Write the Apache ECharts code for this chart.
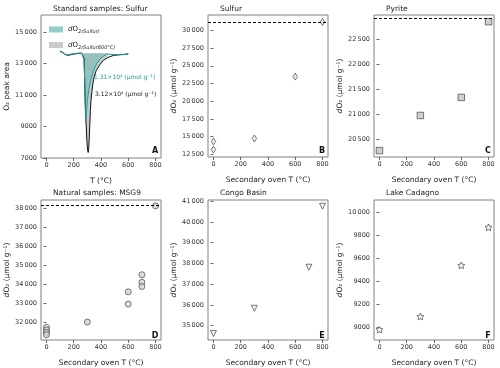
<!DOCTYPE html>
<html><head><meta charset="utf-8">
<script src="https://cdn.jsdelivr.net/npm/echarts@6/dist/echarts.min.js"></script>
<style>html,body{margin:0;padding:0;background:#fff}#c{width:500px;height:368px}</style>
</head><body><div id="c"></div>
<script>
// ---------- data ----------
const xTicks = [0, 200, 400, 600, 800];
// Panel A: O2 peak area vs T
const tSulfur800 = [100,120,140,160,180,200,220,240,260,270,276,280,283,287,292,297,302,306,310,314,318,322,327,333,340,350,365,390,416,450,490,540,580,600];
const aSulfur800 = [13780,13700,13560,13520,13560,13600,13620,13650,13650,13630,13300,12000,10800,9800,8900,8000,7500,7350,7600,8300,9100,10000,10700,11200,11700,12150,12550,12900,13190,13380,13510,13560,13590,13620];
const tSulfur = [100,120,140,160,180,200,220,240,260,270,276,280,283,286,290,295,300,310,320,331,345,368,400,441,500,550,600];
const aSulfur = [13750,13700,13580,13560,13600,13620,13650,13660,13650,13600,13200,12000,10800,9900,9490,10000,10600,11300,11750,12100,12550,12980,13350,13600,13560,13560,13580];
const fillBaseline = 13650;
const aYTicks = [7000, 9000, 11000, 13000, 15000];
// Panel B: Sulfur
const bT = [0, 0, 300, 600, 800];
const bD = [13150, 14300, 14720, 23470, 31200];
const bRef = 31200;
const bYTicks = [12500, 15000, 17500, 20000, 22500, 25000, 27500, 30000];
// Panel C: Pyrite
const cT = [0, 300, 600, 800];
const cD = [20280, 20980, 21340, 22850];
const cRef = 22910;
const cYTicks = [20500, 21000, 21500, 22000, 22500];
// Panel D: MSG9
const dT = [0, 0, 0, 0, 300, 600, 600, 700, 700, 700, 800];
const dD = [31720, 31580, 31450, 31330, 32000, 33600, 32950, 34500, 34100, 33880, 38140];
const dRef = 38150;
const dYTicks = [32000, 33000, 34000, 35000, 36000, 37000, 38000];
// Panel E: Congo Basin
const eT = [0, 300, 700, 800];
const eD = [34620, 35840, 37820, 40760];
const eYTicks = [35000, 36000, 37000, 38000, 39000, 40000, 41000];
// Panel F: Lake Cadagno
const fT = [0, 300, 600, 800];
const fD = [8980, 9094, 9538, 9868];
const fYTicks = [9000, 9200, 9400, 9600, 9800, 10000];

// ---------- chart ----------
const FONT = 'DejaVu Sans';
const pairs = (xs, ys) => xs.map((x, i) => [x, ys[i]]);
const fmt = v => { const s = String(Math.round(v)); return s.length > 4 ? s.slice(0, -3) + '\u2009' + s.slice(-3) : s; };
const colL = [41, 208, 374], rowT = [15, 200], GW = 120, GH = 142;
const grids = [];
for (let r = 0; r < 2; r++) for (let c = 0; c < 3; c++)
  grids.push({left: colL[c], top: rowT[r], width: GW, height: r === 0 && c === 0 ? 143 : GH, show: true, borderColor: '#808080', borderWidth: 1, containLabel: false});

const ylabel = {'i': {fontStyle: 'italic', fontSize: 7.5, fontFamily: FONT, color: '#222'}};
const yName = '{i|d}O₂ (μmol g⁻¹)';
const yRanges = [[7000, 16080], [12100, 32180], [20152, 22983], [31050, 38450], [34310, 41060], [8890, 10105]];
const yTickSets = [aYTicks, bYTicks, cYTicks, dYTicks, eYTicks, fYTicks];
const xAxes = [], yAxes = [];
for (let g = 0; g < 6; g++) {
  xAxes.push({type: 'value', gridIndex: g, min: -40, max: 840,
    name: g === 0 ? 'T (°C)' : 'Secondary oven T (°C)', nameLocation: 'middle', nameGap: 19,
    nameTextStyle: {fontSize: 7.5, fontFamily: FONT, color: '#222'},
    axisLine: {show: false}, splitLine: {show: false},
    axisTick: {show: true, length: 3, customValues: xTicks, lineStyle: {color: '#444', width: 0.8}},
    axisLabel: {customValues: xTicks, fontSize: 6.5, fontFamily: FONT, color: '#333', margin: 4}});
  yAxes.push({type: 'value', gridIndex: g, min: yRanges[g][0], max: yRanges[g][1],
    name: g === 0 ? 'O₂ peak area' : yName, nameLocation: 'middle', nameGap: g === 0 ? 26 : 25,
    nameTextStyle: {fontSize: 7.5, fontFamily: FONT, color: '#222', rich: ylabel},
    axisLine: {show: false}, splitLine: {show: false},
    axisTick: {show: true, length: 3, customValues: yTickSets[g], lineStyle: {color: '#444', width: 0.8}},
    axisLabel: {customValues: yTickSets[g], fontSize: 6.5, fontFamily: FONT, color: '#333', margin: 4, formatter: fmt}});
}

const edge = {borderColor: '#333', borderWidth: 0.8};
const refLine = v => ({silent: true, symbol: ['none', 'none'], label: {show: false},
  lineStyle: {type: [3, 2], color: '#000', width: 1}, data: [{yAxis: v}], animation: false});
const inFill = (ts, as) => pairs(ts, as).filter(p => p[0] >= 262 && p[0] <= 470);

const series = [
  {name: 'fill800', type: 'line', xAxisIndex: 0, yAxisIndex: 0, data: inFill(tSulfur800, aSulfur800), symbol: 'none',
    lineStyle: {width: 0}, areaStyle: {origin: fillBaseline, color: '#b4b4b4', opacity: 0.7}, z: 1},
  {name: 'fillS', type: 'line', xAxisIndex: 0, yAxisIndex: 0, data: inFill(tSulfur, aSulfur), symbol: 'none',
    lineStyle: {width: 0}, areaStyle: {origin: fillBaseline, color: '#56b3ae', opacity: 0.45}, z: 2},
  {name: 'line800', type: 'line', xAxisIndex: 0, yAxisIndex: 0, data: pairs(tSulfur800, aSulfur800), symbol: 'none',
    lineStyle: {width: 1, color: '#111'}, z: 3},
  {name: 'lineS', type: 'line', xAxisIndex: 0, yAxisIndex: 0, data: pairs(tSulfur, aSulfur), symbol: 'none',
    lineStyle: {width: 1, color: '#1f9e98'}, z: 4},
  {type: 'scatter', xAxisIndex: 1, yAxisIndex: 1, data: pairs(bT, bD), symbol: 'path://M0,-10 L6,0 0,10 -6,0Z',
    symbolSize: [4.5, 7], itemStyle: Object.assign({color: '#eeeeee'}, edge), markLine: refLine(bRef)},
  {type: 'scatter', xAxisIndex: 2, yAxisIndex: 2, data: pairs(cT, cD), symbol: 'rect',
    symbolSize: 6.5, itemStyle: Object.assign({color: '#c4c4c4'}, edge), markLine: refLine(cRef)},
  {type: 'scatter', xAxisIndex: 3, yAxisIndex: 3, data: pairs(dT, dD), symbol: 'circle',
    symbolSize: 6, itemStyle: Object.assign({color: '#d4d4d4'}, edge), markLine: refLine(dRef)},
  {type: 'scatter', xAxisIndex: 4, yAxisIndex: 4, data: pairs(eT, eD), symbol: 'triangle', symbolRotate: 180,
    symbolSize: 6, itemStyle: Object.assign({color: '#eeeeee'}, edge)},
  {type: 'scatter', xAxisIndex: 5, yAxisIndex: 5, data: pairs(fT, fD),
    symbol: 'path://M0,-10 L2.94,-4.05 9.51,-3.09 4.76,1.55 5.88,8.09 0,5 -5.88,8.09 -4.76,1.55 -9.51,-3.09 -2.94,-4.05Z',
    symbolSize: 7, symbolKeepAspect: true, itemStyle: Object.assign({color: '#f2f2f2'}, edge)}
];

const titles = ['Standard samples: Sulfur', 'Sulfur', 'Pyrite', 'Natural samples: MSG9', 'Congo Basin', 'Lake Cadagno'];
const titleOpts = titles.map((t, i) => ({text: t, left: colL[i % 3] + 7, top: i < 3 ? 0 : 184,
  textStyle: {fontSize: 7.5, fontWeight: 'normal', fontFamily: FONT, color: '#222'}}));

const legRich = {
  i: {fontStyle: 'italic', fontSize: 7, fontFamily: FONT, color: '#222'},
  n: {fontSize: 7, fontFamily: FONT, color: '#222'},
  s: {fontStyle: 'italic', fontSize: 5, fontFamily: FONT, color: '#222', padding: [5, 0, 0, 0]}
};
const legLabels = {fillS: '{i|d}{n|O}{s|2(Sulfur)}', fill800: '{i|d}{n|O}{s|2(Sulfur800°C)}'};

const letters = ['A', 'B', 'C', 'D', 'E', 'F'];
const graphics = letters.map((L, i) => ({type: 'text', x: colL[i % 3] + GW - 6, y: rowT[Math.floor(i / 3)] + GH - 6,
  style: {text: L, font: 'bold 8px "DejaVu Sans"', fill: '#111', align: 'center', verticalAlign: 'middle'}}));
graphics.push({type: 'text', x: 94, y: 77, style: {text: '1.31×10⁴ (μmol g⁻¹)', font: '6px "DejaVu Sans"', fill: '#1f9e98', align: 'left', verticalAlign: 'middle'}});
graphics.push({type: 'text', x: 95, y: 94, style: {text: '3.12×10⁴ (μmol g⁻¹)', font: '6px "DejaVu Sans"', fill: '#222', align: 'left', verticalAlign: 'middle'}});

const chart = echarts.init(document.getElementById('c'), null, {renderer: 'canvas'});
chart.setOption({
  animation: false,
  backgroundColor: '#fff',
  title: titleOpts,
  grid: grids,
  xAxis: xAxes,
  yAxis: yAxes,
  legend: {data: [{name: 'fillS', itemStyle: {color: '#8fcecb', opacity: 1}}, {name: 'fill800', itemStyle: {color: '#cccccc', opacity: 1}}],
    left: 44, top: 21, orient: 'vertical', icon: 'rect', itemWidth: 14, itemHeight: 6, itemGap: 7, selectedMode: false,
    formatter: n => legLabels[n], textStyle: {fontSize: 7, fontFamily: FONT, rich: legRich}},
  series: series,
  graphic: graphics
});
</script></body></html>
